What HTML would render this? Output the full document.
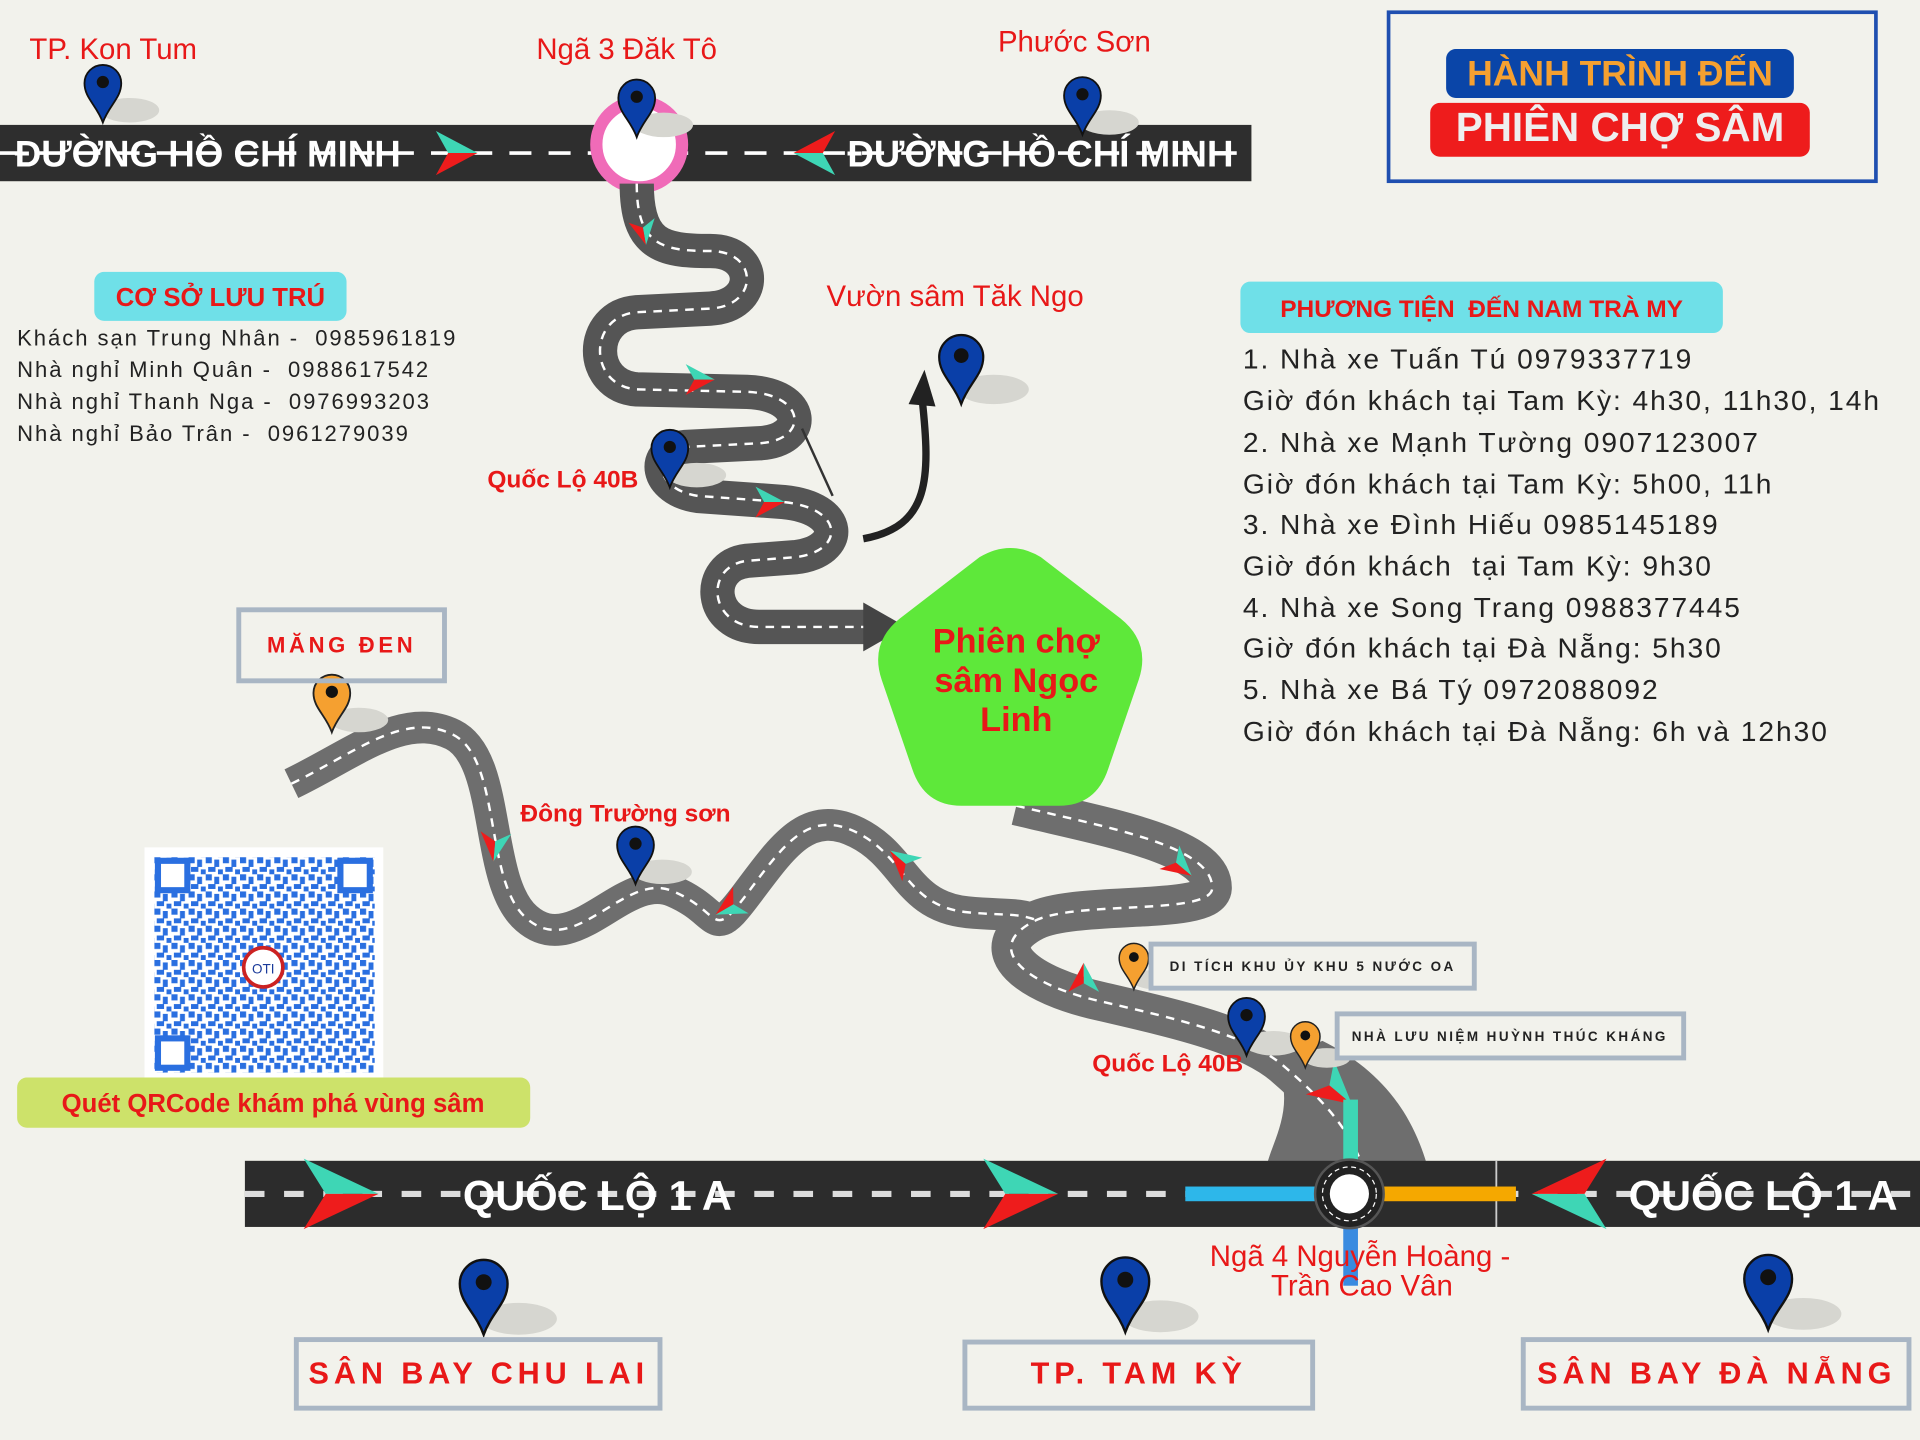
<!DOCTYPE html>
<html><head><meta charset="utf-8"><style>
html,body{margin:0;padding:0;background:#f2f2ec;}
svg{display:block}
text{font-family:"Liberation Sans","DejaVu Sans",sans-serif;}
</style></head><body>
<svg width="1920" height="1440" viewBox="0 0 1568 1176" xmlns="http://www.w3.org/2000/svg">
<defs>
<g id="pinB"><ellipse cx="22" cy="-10" rx="24" ry="10" fill="#d6d6d0"/><path d="M0,0 C-5,-14 -15,-20 -15,-32 A15,15 0 1 1 15,-32 C15,-20 5,-14 0,0Z" fill="#0a3fa8" stroke="#111" stroke-width="1.5"/><circle cx="0" cy="-33" r="5" fill="#111"/></g>
<g id="pinO"><ellipse cx="22" cy="-10" rx="24" ry="10" fill="#d6d6d0"/><path d="M0,0 C-5,-14 -15,-20 -15,-32 A15,15 0 1 1 15,-32 C15,-20 5,-14 0,0Z" fill="#f5a030" stroke="#222" stroke-width="1.5"/><circle cx="0" cy="-33" r="5" fill="#111"/></g>
<g id="arr"><polygon points="0,-18 34,0 10,0" fill="#3ed6b5"/><polygon points="0,18 34,0 10,0" fill="#ee1c1c"/></g>
<pattern id="qr" width="14" height="14" patternUnits="userSpaceOnUse"><rect width="14" height="14" fill="#fff"/><rect x="0" y="0" width="5" height="5" fill="#2a6fe0"/><rect x="7" y="2" width="4" height="6" fill="#2a6fe0"/><rect x="2" y="8" width="6" height="4" fill="#2a6fe0"/><rect x="10" y="10" width="4" height="4" fill="#2a6fe0"/></pattern>
</defs>

<!-- top road -->
<rect x="0" y="102" width="1022" height="46" fill="#2e2e2e"/>
<line x1="0" y1="125" x2="1022" y2="125" stroke="#fff" stroke-width="3" stroke-dasharray="18,14"/>
<text x="12" y="136" font-size="30" font-weight="bold" fill="#fff">ĐƯỜNG HỒ CHÍ MINH</text>
<text x="692" y="136" font-size="30" font-weight="bold" fill="#fff">ĐƯỜNG HỒ CHÍ MINH</text>
<use href="#arr" transform="translate(356,125)"/>
<use href="#arr" transform="translate(682,125) scale(-1,-1)"/>
<circle cx="522" cy="118" r="35" fill="#fff" stroke="#f06bb8" stroke-width="10"/>

<!-- winding road 1 -->
<path d="M520,150 C520,200 540,205 580,205 C620,205 620,250 580,252 L520,255 C480,258 480,315 520,318 L610,320 C660,322 660,360 620,362 L560,365 C530,368 535,400 570,405 L640,410 C690,415 690,450 650,455 L610,458 C575,462 578,512 620,512 L712,512" fill="none" stroke="#555" stroke-width="28"/>
<path d="M520,150 C520,200 540,205 580,205 C620,205 620,250 580,252 L520,255 C480,258 480,315 520,318 L610,320 C660,322 660,360 620,362 L560,365 C530,368 535,400 570,405 L640,410 C690,415 690,450 650,455 L610,458 C575,462 578,512 620,512 L712,512" fill="none" stroke="#fff" stroke-width="2" stroke-dasharray="7,6"/>
<polygon points="705,492 740,512 705,532" fill="#444"/>
<path d="M655,350 L680,405" stroke="#333" stroke-width="2"/>
<use href="#arr" transform="translate(524,180) rotate(80) scale(0.6)"/>
<use href="#arr" transform="translate(560,310) scale(0.7)"/>
<use href="#arr" transform="translate(617,410) scale(0.7)"/>
<path d="M705,440 C760,430 760,390 753,325" fill="none" stroke="#222" stroke-width="6"/>
<polygon points="742,330 755,302 764,332" fill="#222"/>

<!-- lower roads -->
<path d="M830,658 C900,675 990,690 990,725 C990,748 880,735 845,752 C800,775 840,805 900,818 C960,832 1020,845 1050,872 C1080,898 1100,920 1112,950" fill="none" stroke="#6e6e6e" stroke-width="32"/>
<path d="M1040,865 C1060,900 1040,930 1035,950 L1165,950 C1150,900 1120,870 1080,850Z" fill="#6e6e6e"/>
<path d="M238,640 C290,615 330,580 370,600 C410,620 395,720 430,750 C470,785 510,710 550,728 C590,745 580,770 610,730 C640,690 660,660 700,680 C740,700 740,740 790,745 C820,748 830,745 848,752" fill="none" stroke="#6e6e6e" stroke-width="26"/>
<path d="M238,640 C290,615 330,580 370,600 C410,620 395,720 430,750 C470,785 510,710 550,728 C590,745 580,770 610,730 C640,690 660,660 700,680 C740,700 740,740 790,745 C820,748 830,745 848,752" fill="none" stroke="#fff" stroke-width="2" stroke-dasharray="7,6"/>
<path d="M830,658 C900,675 990,690 990,725 C990,748 880,735 845,752 C800,775 840,805 900,818 C960,832 1020,845 1050,872 C1080,898 1100,920 1112,950" fill="none" stroke="#fff" stroke-width="2" stroke-dasharray="7,6"/>
<use href="#arr" transform="translate(405,680) rotate(95) scale(0.7)"/>
<use href="#arr" transform="translate(605,735) rotate(150) scale(0.7)"/>
<use href="#arr" transform="translate(745,710) rotate(40) scale(-0.7,0.7)"/>
<use href="#arr" transform="translate(955,700) rotate(40) scale(0.7)"/>
<use href="#arr" transform="translate(885,810) rotate(90) scale(-0.7,0.7)"/>
<use href="#arr" transform="translate(1078,880) rotate(40)"/>

<!-- pentagon -->
<path d="M800,455 Q825,440 850,455 L915,505 Q940,525 930,555 L905,628 Q895,658 865,658 L785,658 Q755,658 745,628 L720,555 Q710,525 735,505Z" fill="#5ee83a"/>
<g font-size="28" font-weight="bold" fill="#e81818" text-anchor="middle">
<text x="830" y="533">Phiên chợ</text><text x="830" y="565">sâm  Ngọc</text><text x="830" y="597">Linh</text></g>

<!-- bottom road -->
<rect x="200" y="948" width="1368" height="54" fill="#2c2c2c"/>
<line x1="200" y1="975" x2="1568" y2="975" stroke="#ddd" stroke-width="5" stroke-dasharray="16,16"/>
<line x1="1222" y1="948" x2="1222" y2="1002" stroke="#ccc" stroke-width="1.5"/>
<text x="378" y="988" font-size="34" font-weight="bold" fill="#fff">QUỐC LỘ 1 A</text>
<text x="1330" y="988" font-size="34" font-weight="bold" fill="#fff">QUỐC LỘ 1 A</text>
<use href="#arr" transform="translate(248,975) scale(1.8,1.6)"/>
<use href="#arr" transform="translate(803,975) scale(1.8,1.6)"/>
<use href="#arr" transform="translate(1312,975) scale(-1.8,-1.6)"/>
<rect x="968" y="969" width="107" height="12" fill="#2db7ea"/>
<rect x="1130" y="969" width="108" height="12" fill="#f5a800"/>
<rect x="1097" y="898" width="12" height="52" fill="#3ed6b5"/>
<rect x="1097" y="1002" width="12" height="48" fill="#3a8be0"/>
<circle cx="1102" cy="975" r="28" fill="#222" stroke="#555" stroke-width="2"/>
<circle cx="1102" cy="975" r="22" fill="none" stroke="#fff" stroke-width="1" stroke-dasharray="4,3"/>
<circle cx="1102" cy="975" r="16" fill="#fff"/>

<!-- labels & pins -->
<g font-size="24" fill="#e81818">
<text x="24" y="48">TP. Kon Tum</text><text x="438" y="48">Ngã 3 Đăk Tô</text><text x="815" y="42">Phước Sơn</text>
<text x="675" y="250">Vườn sâm Tăk Ngo</text>
<text x="988" y="1034">Ngã 4 Nguyễn Hoàng -</text><text x="1038" y="1058">Trần Cao Vân</text></g>
<use href="#pinB" transform="translate(84,100)"/>
<use href="#pinB" transform="translate(520,112)"/>
<use href="#pinB" transform="translate(884,110)"/>
<use href="#pinB" transform="translate(785,330) scale(1.2)"/>
<use href="#pinB" transform="translate(547,398)"/>
<use href="#pinB" transform="translate(519,722)"/>
<use href="#pinB" transform="translate(1018,862)"/>
<use href="#pinO" transform="translate(271,598)"/>
<use href="#pinO" transform="translate(926,808) scale(0.8)"/>
<use href="#pinO" transform="translate(1066,872) scale(0.8)"/>
<use href="#pinB" transform="translate(395,1090) scale(1.3)"/>
<use href="#pinB" transform="translate(919,1088) scale(1.3)"/>
<use href="#pinB" transform="translate(1444,1086) scale(1.3)"/>

<!-- title -->
<rect x="1134" y="10" width="398" height="138" fill="none" stroke="#1f4fb0" stroke-width="3"/>
<rect x="1181" y="40" width="284" height="40" rx="8" fill="#0a45a8"/>
<rect x="1168" y="84" width="310" height="44" rx="8" fill="#ee1c1c"/>
<text x="1323" y="70" font-size="29" font-weight="bold" fill="#f5a030" text-anchor="middle">HÀNH TRÌNH ĐẾN</text>
<text x="1323" y="115" font-size="33" font-weight="bold" fill="#eee" text-anchor="middle">PHIÊN CHỢ SÂM</text>

<!-- lodging -->
<rect x="77" y="222" width="206" height="40" rx="8" fill="#6fe0e8"/>
<text x="180" y="250" font-size="21" font-weight="bold" fill="#e81818" text-anchor="middle">CƠ SỞ LƯU TRÚ</text>
<g font-size="18" fill="#222" letter-spacing="1.6">
<text x="14" y="282">Khách sạn Trung Nhân -&#160; 0985961819</text>
<text x="14" y="308">Nhà nghỉ Minh Quân -&#160; 0988617542</text>
<text x="14" y="334">Nhà nghỉ Thanh Nga -&#160; 0976993203</text>
<text x="14" y="360">Nhà nghỉ Bảo Trân -&#160; 0961279039</text></g>

<!-- transport -->
<rect x="1013" y="230" width="394" height="42" rx="8" fill="#6fe0e8"/>
<text x="1210" y="259" font-size="20" font-weight="bold" fill="#e81818" text-anchor="middle">PHƯƠNG TIỆN&#160; ĐẾN NAM TRÀ MY</text>
<g font-size="23" fill="#222" letter-spacing="1.6">
<text x="1015" y="301">1. Nhà xe Tuấn Tú 0979337719</text>
<text x="1015" y="335">Giờ đón khách tại Tam Kỳ: 4h30, 11h30, 14h</text>
<text x="1015" y="369">2. Nhà xe Mạnh Tường 0907123007</text>
<text x="1015" y="403">Giờ đón khách tại Tam Kỳ: 5h00, 11h</text>
<text x="1015" y="436">3. Nhà xe Đình Hiếu 0985145189</text>
<text x="1015" y="470">Giờ đón khách&#160; tại Tam Kỳ: 9h30</text>
<text x="1015" y="504">4. Nhà xe Song Trang 0988377445</text>
<text x="1015" y="537">Giờ đón khách tại Đà Nẵng: 5h30</text>
<text x="1015" y="571">5. Nhà xe Bá Tý 0972088092</text>
<text x="1015" y="605">Giờ đón khách tại Đà Nẵng: 6h và 12h30</text></g>

<!-- other labels -->
<g font-size="20" font-weight="bold" fill="#e81818">
<text x="398" y="398">Quốc Lộ 40B</text>
<text x="425" y="671">Đông Trường sơn</text>
<text x="892" y="875">Quốc Lộ 40B</text></g>
<rect x="195" y="498" width="168" height="58" fill="none" stroke="#a9b6c4" stroke-width="4"/>
<text x="279" y="533" font-size="18" font-weight="bold" fill="#e81818" text-anchor="middle" letter-spacing="3">MĂNG ĐEN</text>
<rect x="940" y="771" width="264" height="36" fill="#f2f2ec" stroke="#a9b6c4" stroke-width="4"/>
<text x="1072" y="793" font-size="11" font-weight="bold" fill="#222" text-anchor="middle" letter-spacing="2">DI TÍCH KHU ỦY KHU 5 NƯỚC OA</text>
<rect x="1092" y="828" width="283" height="36" fill="#f2f2ec" stroke="#a9b6c4" stroke-width="4"/>
<text x="1233" y="850" font-size="11" font-weight="bold" fill="#222" text-anchor="middle" letter-spacing="2">NHÀ LƯU NIỆM HUỲNH THÚC KHÁNG</text>

<!-- QR -->
<rect x="118" y="692" width="195" height="188" fill="#fff"/>
<rect x="126" y="700" width="180" height="176" fill="url(#qr)"/>
<g fill="#fff" stroke="#2a6fe0" stroke-width="5">
<rect x="129" y="703" width="24" height="24"/><rect x="278" y="703" width="24" height="24"/><rect x="129" y="848" width="24" height="24"/></g>
<circle cx="215" cy="790" r="16" fill="#fff" stroke="#c22" stroke-width="3"/>
<text x="215" y="795" font-size="11" fill="#1a3a9a" text-anchor="middle">OTI</text>
<rect x="14" y="880" width="419" height="41" rx="8" fill="#cde26a"/>
<text x="223" y="908" font-size="21" font-weight="bold" fill="#e81818" text-anchor="middle">Quét QRCode khám phá vùng sâm</text>

<!-- bottom boxes -->
<g fill="none" stroke="#a9b6c4" stroke-width="4">
<rect x="242" y="1094" width="297" height="56"/><rect x="788" y="1096" width="284" height="54"/><rect x="1244" y="1094" width="315" height="56"/></g>
<g font-size="25" font-weight="bold" fill="#e81818" text-anchor="middle" letter-spacing="4">
<text x="391" y="1130">SÂN BAY CHU LAI</text><text x="930" y="1130">TP. TAM KỲ</text><text x="1402" y="1130">SÂN BAY ĐÀ NẴNG</text></g>
</svg>
</body></html>
